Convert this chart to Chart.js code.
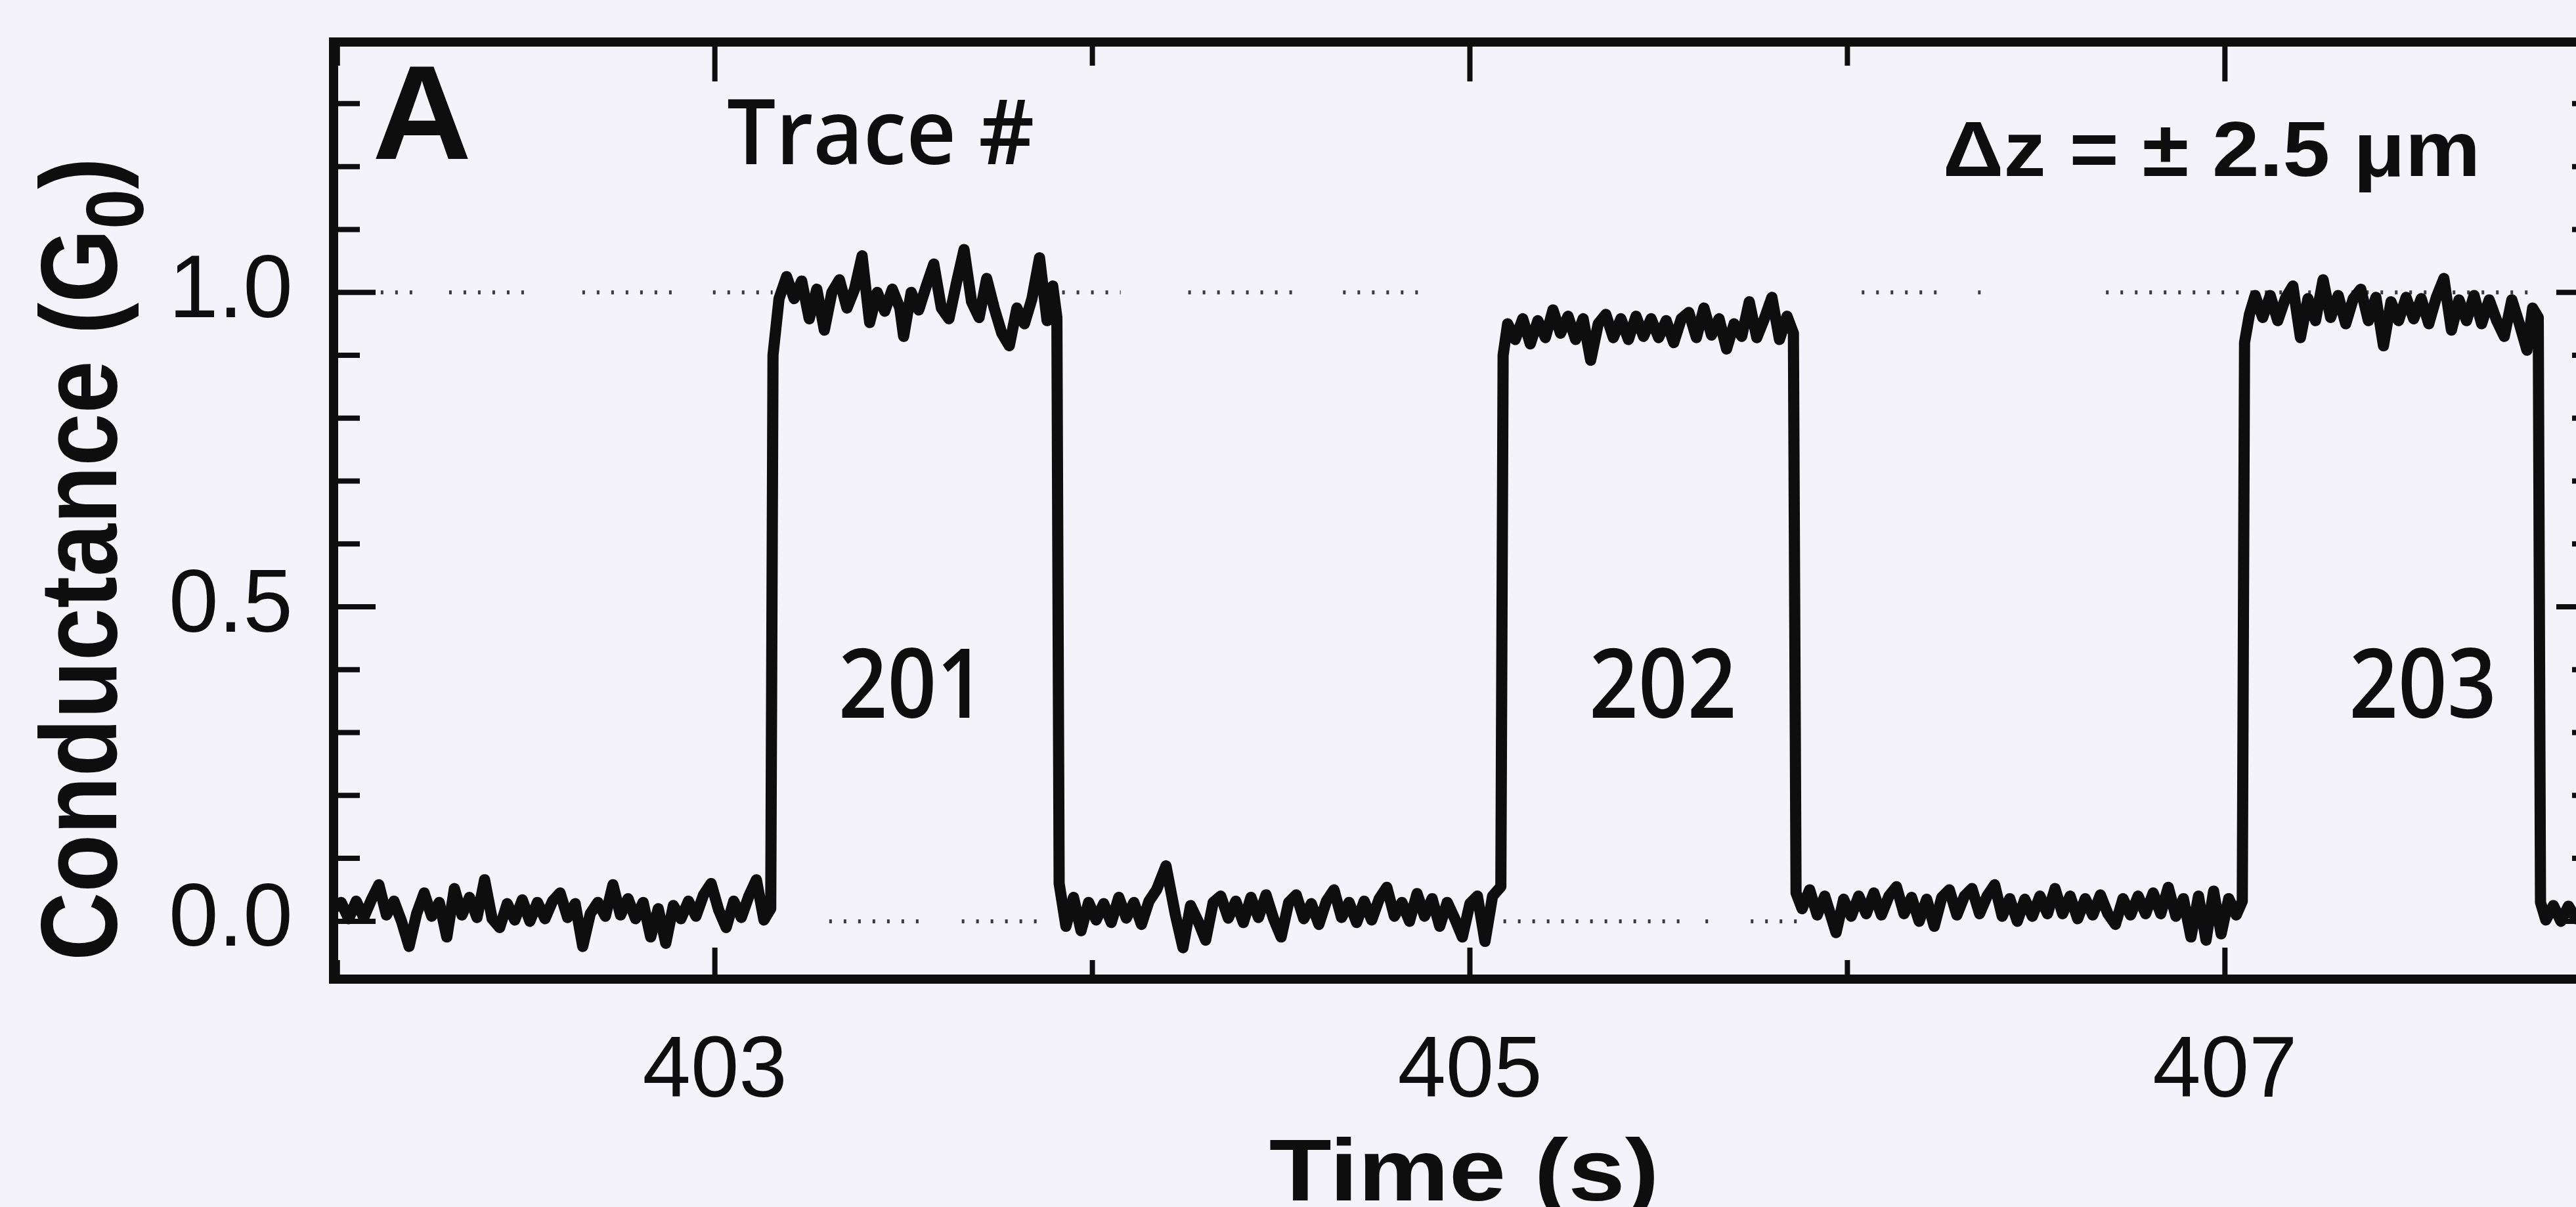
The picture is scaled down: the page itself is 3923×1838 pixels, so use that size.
<!DOCTYPE html>
<html>
<head>
<meta charset="utf-8">
<title>Conductance traces</title>
<script src="https://cdn.jsdelivr.net/npm/chart.js@4.4.1/dist/chart.umd.min.js"></script>
<style>
  html, body { margin: 0; padding: 0; overflow: hidden; background: #f3f3f9; }
  #marco { position: relative; width: 3923px; height: 1838px; overflow: hidden; }
  #grafico { position: absolute; left: 0; top: 0; }
</style>
</head>
<body>
<div id="marco"><canvas id="grafico" width="3960" height="1838"></canvas></div>
<script>
// Datos: [tiempo (s), conductancia (G0)]
const reposo1 = [
  [401.99, 0.020], [402.01, 0.030], [402.03, 0.004], [402.05, 0.032], [402.07, 0.006],
  [402.09, 0.034], [402.11, 0.058], [402.13, 0.010], [402.15, 0.032], [402.17, 0.000],
  [402.19, -0.040], [402.21, 0.012], [402.23, 0.045], [402.25, 0.008], [402.27, 0.030],
  [402.29, -0.025], [402.31, 0.052], [402.33, 0.010], [402.35, 0.038], [402.37, 0.006],
  [402.39, 0.066], [402.41, 0.004], [402.43, -0.010], [402.45, 0.028], [402.47, 0.002],
  [402.49, 0.034], [402.51, 0.000], [402.53, 0.030], [402.55, 0.004], [402.57, 0.032],
  [402.59, 0.045], [402.61, 0.006], [402.63, 0.028], [402.65, -0.040], [402.67, 0.012],
  [402.69, 0.030], [402.71, 0.008], [402.73, 0.058], [402.75, 0.010], [402.77, 0.036],
  [402.79, 0.004], [402.81, 0.030], [402.83, -0.025], [402.85, 0.020], [402.87, -0.035],
  [402.89, 0.025], [402.91, 0.004], [402.93, 0.032], [402.95, 0.008], [402.97, 0.042],
  [402.99, 0.060], [403.01, 0.018], [403.03, -0.010], [403.05, 0.032], [403.07, 0.006],
  [403.09, 0.040], [403.11, 0.066], [403.13, 0.002], [403.148, 0.020]
];

const traza201 = [
  [403.154, 0.900], [403.170, 0.990], [403.190, 1.025], [403.210, 0.990], [403.230, 1.018],
  [403.250, 0.958], [403.270, 1.005], [403.290, 0.940], [403.310, 1.000], [403.330, 1.020],
  [403.350, 0.975], [403.370, 1.005], [403.390, 1.058], [403.410, 0.952], [403.430, 1.000],
  [403.450, 0.970], [403.470, 1.005], [403.490, 0.975], [403.500, 0.930], [403.520, 1.000],
  [403.540, 0.972], [403.560, 1.010], [403.580, 1.045], [403.600, 0.975], [403.620, 0.958],
  [403.640, 1.015], [403.660, 1.068], [403.680, 0.985], [403.700, 0.960], [403.720, 1.022],
  [403.740, 0.975], [403.760, 0.935], [403.780, 0.915], [403.800, 0.975], [403.820, 0.950],
  [403.840, 0.990], [403.860, 1.055], [403.880, 0.955], [403.895, 1.010], [403.906, 0.960]
];

const reposo2 = [
  [403.912, 0.060], [403.930, -0.008], [403.950, 0.038], [403.970, -0.015], [403.990, 0.030],
  [404.010, 0.002], [404.030, 0.028], [404.050, -0.002], [404.070, 0.038], [404.090, 0.005],
  [404.110, 0.030], [404.130, -0.005], [404.150, 0.032], [404.170, 0.050], [404.195, 0.088],
  [404.220, 0.010], [404.240, -0.042], [404.260, 0.025], [404.280, 0.000], [404.300, -0.030],
  [404.320, 0.030], [404.340, 0.040], [404.360, 0.005], [404.380, 0.032], [404.400, -0.002],
  [404.420, 0.038], [404.440, 0.006], [404.460, 0.042], [404.480, 0.004], [404.500, -0.025],
  [404.520, 0.030], [404.540, 0.042], [404.560, 0.004], [404.580, 0.028], [404.600, -0.005],
  [404.620, 0.032], [404.640, 0.050], [404.660, 0.006], [404.680, 0.030], [404.700, -0.002],
  [404.720, 0.032], [404.740, 0.002], [404.760, 0.036], [404.780, 0.054], [404.800, 0.008],
  [404.820, 0.030], [404.840, 0.000], [404.860, 0.044], [404.880, 0.008], [404.900, 0.036],
  [404.920, -0.008], [404.940, 0.030], [404.960, 0.004], [404.980, -0.025], [405.000, 0.028],
  [405.020, 0.040], [405.040, -0.032], [405.060, 0.040], [405.082, 0.055]
];

const traza202 = [
  [405.088, 0.900], [405.100, 0.950], [405.120, 0.925], [405.140, 0.958], [405.160, 0.918],
  [405.180, 0.955], [405.200, 0.928], [405.220, 0.972], [405.240, 0.935], [405.260, 0.962],
  [405.280, 0.925], [405.300, 0.958], [405.320, 0.892], [405.340, 0.950], [405.360, 0.965],
  [405.380, 0.928], [405.400, 0.958], [405.420, 0.925], [405.440, 0.962], [405.460, 0.930],
  [405.480, 0.958], [405.500, 0.928], [405.520, 0.955], [405.540, 0.920], [405.560, 0.958],
  [405.580, 0.968], [405.600, 0.928], [405.620, 0.975], [405.640, 0.932], [405.660, 0.958],
  [405.680, 0.910], [405.700, 0.950], [405.720, 0.930], [405.740, 0.985], [405.760, 0.928],
  [405.780, 0.958], [405.800, 0.992], [405.820, 0.925], [405.840, 0.962], [405.857, 0.935]
];

const reposo3 = [
  [405.864, 0.045], [405.880, 0.020], [405.900, 0.050], [405.920, 0.010], [405.940, 0.040],
  [405.970, -0.018], [405.990, 0.035], [406.010, 0.008], [406.030, 0.040], [406.050, 0.012],
  [406.070, 0.045], [406.090, 0.010], [406.110, 0.040], [406.130, 0.055], [406.150, 0.012],
  [406.170, 0.038], [406.190, 0.000], [406.210, 0.035], [406.230, -0.008], [406.250, 0.038],
  [406.270, 0.050], [406.290, 0.010], [406.310, 0.040], [406.330, 0.052], [406.350, 0.012],
  [406.370, 0.040], [406.390, 0.058], [406.410, 0.008], [406.430, 0.036], [406.450, 0.000],
  [406.470, 0.035], [406.490, 0.008], [406.510, 0.040], [406.530, 0.012], [406.550, 0.052],
  [406.570, 0.012], [406.590, 0.040], [406.610, 0.004], [406.630, 0.036], [406.650, 0.010],
  [406.670, 0.042], [406.690, 0.012], [406.710, -0.005], [406.730, 0.036], [406.750, 0.010],
  [406.770, 0.040], [406.790, 0.012], [406.810, 0.045], [406.830, 0.012], [406.850, 0.054],
  [406.870, 0.008], [406.890, 0.036], [406.910, -0.025], [406.930, 0.040], [406.950, -0.030],
  [406.970, 0.048], [406.990, -0.020], [407.010, 0.036], [407.030, 0.010], [407.046, 0.032]
];

const traza203 = [
  [407.052, 0.920], [407.065, 0.965], [407.080, 0.995], [407.100, 0.960], [407.120, 0.995],
  [407.140, 0.955], [407.160, 0.990], [407.180, 1.010], [407.200, 0.928], [407.220, 0.990],
  [407.240, 0.955], [407.260, 1.020], [407.280, 0.960], [407.300, 0.995], [407.320, 0.950],
  [407.340, 0.990], [407.360, 1.005], [407.380, 0.955], [407.400, 0.992], [407.420, 0.915],
  [407.440, 0.985], [407.460, 0.955], [407.480, 0.992], [407.500, 0.958], [407.520, 0.990],
  [407.540, 0.950], [407.560, 0.992], [407.580, 1.022], [407.600, 0.940], [407.620, 0.988],
  [407.640, 0.955], [407.660, 0.995], [407.680, 0.950], [407.700, 0.988], [407.720, 0.955],
  [407.740, 0.930], [407.760, 0.988], [407.780, 0.950], [407.800, 0.908], [407.815, 0.975],
  [407.830, 0.960]
];

const reposo4 = [
  [407.836, 0.030], [407.850, 0.002], [407.870, 0.025], [407.890, 0.000], [407.910, 0.024],
  [407.930, 0.004], [407.950, 0.022], [407.970, 0.008]
];

// Tramos visibles de las lineas punteadas de referencia (tiempo inicial, tiempo final)
const lineaUnoTramos = [
  [402.115, 402.216], [402.296, 402.497], [402.649, 402.894], [402.995, 403.153],
  [403.920, 404.075], [404.254, 404.532], [404.664, 404.875], [406.038, 406.243],
  [406.346, 406.362], [406.685, 407.819]
];
const lineaCeroTramos = [
  [403.303, 403.546], [403.654, 403.880], [405.089, 405.563], [405.624, 405.642],
  [405.744, 405.871]
];

// Marcas y etiquetas de los ejes
const ejeXMarcas = [402, 403, 404, 405, 406, 407];
const ejeXEtiquetas = ['', '403', '', '405', '', '407'];
const ejeYMarcas = [0, 0.1, 0.2, 0.3, 0.4, 0.5, 0.6, 0.7, 0.8, 0.9, 1.0, 1.1, 1.2, 1.3];
const ejeYEtiquetas = ['0.0', '', '', '', '', '0.5', '', '', '', '', '1.0', '', '', ''];
const numerosTraza = ['201', '202', '203'];

const fondo = '#f3f3f9';
const tinta = '#0e0e0e';

// Une todos los tramos en una sola serie
const puntosTraza = [reposo1, traza201, reposo2, traza202, reposo3, traza203, reposo4]
  .flat()
  .map(p => ({ x: p[0], y: p[1] }));

function lineaPunteada(tramos, nivel) {
  const datos = [];
  tramos.forEach(t => {
    datos.push({ x: t[0], y: nivel });
    datos.push({ x: t[1], y: nivel });
    datos.push({ x: t[1], y: null });
  });
  return {
    data: datos,
    borderColor: '#3a3a42',
    borderWidth: 6,
    borderDash: [4, 18],
    pointRadius: 0,
    spanGaps: false,
    fill: false
  };
}

// Escribe un texto con su tinta empezando en "izq" y ajustada a "ancho"
function textoAjustado(ctx, texto, izq, base, ancho, fuente) {
  ctx.save();
  ctx.font = fuente;
  ctx.textAlign = 'left';
  ctx.textBaseline = 'alphabetic';
  const m = ctx.measureText(texto);
  const k = ancho / (m.actualBoundingBoxLeft + m.actualBoundingBoxRight);
  ctx.translate(izq, base);
  ctx.scale(k, 1);
  ctx.fillText(texto, m.actualBoundingBoxLeft, 0);
  ctx.restore();
}

const pintarFondo = {
  id: 'pintarFondo',
  beforeDraw(chart) {
    const ctx = chart.ctx;
    ctx.save();
    ctx.fillStyle = fondo;
    ctx.fillRect(0, 0, chart.width, chart.height);
    ctx.restore();
  }
};

// Marco cerrado con marcas hacia dentro en los cuatro lados
const marcoEjes = {
  id: 'marcoEjes',
  afterDatasetsDraw(chart) {
    const { ctx, chartArea: a, scales: { x, y } } = chart;
    ctx.save();
    ctx.strokeStyle = tinta;
    ctx.lineWidth = 14;
    ctx.lineJoin = 'miter';
    ctx.strokeRect(a.left, a.top, a.right - a.left, a.bottom - a.top);

    ctx.lineWidth = 8;
    ctx.lineCap = 'butt';
    ctx.beginPath();
    ejeXMarcas.forEach((v, i) => {
      const px = x.getPixelForValue(v);
      const mayor = ejeXEtiquetas[i] !== '';
      ctx.moveTo(px, a.bottom);
      ctx.lineTo(px, a.bottom - (mayor ? 48 : 29));
      ctx.moveTo(px, a.top);
      ctx.lineTo(px, a.top + (mayor ? 60 : 36));
    });
    ejeYMarcas.forEach((v, i) => {
      const py = y.getPixelForValue(v);
      const mayor = ejeYEtiquetas[i] !== '';
      ctx.moveTo(a.left, py);
      ctx.lineTo(a.left + (mayor ? 64 : 40), py);
      ctx.moveTo(a.right, py);
      ctx.lineTo(a.right - (mayor ? 53 : 29), py);
    });
    ctx.stroke();
    ctx.restore();
  }
};

const rotulos = {
  id: 'rotulos',
  afterDraw(chart) {
    const { ctx, scales: { x } } = chart;
    ctx.save();
    ctx.fillStyle = tinta;

    textoAjustado(ctx, 'A', 572, 242, 141, 'bold 205px "Liberation Sans", Arial, sans-serif');
    textoAjustado(ctx, 'Trace #', 1109, 250, 464, '600 137px "Open Sans", sans-serif');
    textoAjustado(ctx, 'Δz = ± 2.5 μm', 2963, 268, 807, 'bold 119px "Liberation Sans", Arial, sans-serif');
    textoAjustado(ctx, 'Time (s)', 1934, 1828, 585, 'bold 134px "Liberation Sans", Arial, sans-serif');

    // Numeros de traza centrados sobre cada escalon
    const centros = [403.506, 405.511, 407.523];
    ctx.font = '600 147px "Open Sans", sans-serif';
    ctx.textAlign = 'left';
    ctx.textBaseline = 'alphabetic';
    const ref = ctx.measureText('201');
    const k = 195 / (ref.actualBoundingBoxLeft + ref.actualBoundingBoxRight);
    numerosTraza.forEach((n, i) => {
      const m = ctx.measureText(n);
      const tintaAncho = (m.actualBoundingBoxLeft + m.actualBoundingBoxRight) * k;
      const cx = x.getPixelForValue(centros[i]);
      ctx.save();
      ctx.translate(cx - tintaAncho / 2, 1093);
      ctx.scale(k, 1);
      ctx.fillText(n, m.actualBoundingBoxLeft, 0);
      ctx.restore();
    });

    // Titulo vertical con subindice
    const principal = 'bold 165px "Liberation Sans", Arial, sans-serif';
    const subindice = 'bold 125px "Liberation Sans", Arial, sans-serif';
    ctx.font = principal;
    const w1 = ctx.measureText('Conductance (G').width;
    const w3 = ctx.measureText(')').width;
    ctx.font = subindice;
    const w2 = ctx.measureText('0').width;
    const kt = 1223 / (w1 + w2 + w3);
    ctx.save();
    ctx.translate(177, 1463);
    ctx.rotate(-Math.PI / 2);
    ctx.scale(kt, 1);
    ctx.font = principal;
    ctx.fillText('Conductance (G', 0, 0);
    ctx.font = subindice;
    ctx.fillText('0', w1, 41);
    ctx.font = principal;
    ctx.fillText(')', w1 + w2, 0);
    ctx.restore();

    ctx.restore();
  }
};

new Chart(document.getElementById('grafico'), {
  type: 'line',
  data: {
    datasets: [
      {
        data: puntosTraza,
        borderColor: tinta,
        borderWidth: 17,
        borderJoinStyle: 'round',
        borderCapStyle: 'round',
        pointRadius: 0,
        tension: 0,
        fill: false
      },
      lineaPunteada(lineaUnoTramos, 1.0),
      lineaPunteada(lineaCeroTramos, 0.0)
    ]
  },
  options: {
    responsive: false,
    animation: false,
    devicePixelRatio: 1,
    layout: { padding: { left: 0, top: 64, right: 14, bottom: 0 } },
    plugins: { legend: { display: false }, tooltip: { enabled: false } },
    scales: {
      x: {
        type: 'linear',
        min: 401.99,
        max: 407.97,
        grid: { display: false, drawTicks: false },
        border: { display: false },
        afterBuildTicks: s => { s.ticks = ejeXMarcas.map(v => ({ value: v })); },
        afterFit: s => { s.height = 347; s.paddingLeft = 0; s.paddingRight = 0; },
        ticks: {
          autoSkip: false,
          maxRotation: 0,
          minRotation: 0,
          padding: 77,
          color: tinta,
          font: { family: '"Liberation Sans", Arial, sans-serif', size: 132, lineHeight: 1 },
          callback: (v, i) => ejeXEtiquetas[i]
        }
      },
      y: {
        type: 'linear',
        min: -0.092,
        max: 1.398,
        grid: { display: false, drawTicks: false },
        border: { display: false },
        afterBuildTicks: s => { s.ticks = ejeYMarcas.map(v => ({ value: v })); },
        afterFit: s => { s.width = 508; s.paddingTop = 0; s.paddingBottom = 0; },
        ticks: {
          autoSkip: false,
          padding: 62,
          color: tinta,
          font: { family: '"Liberation Sans", Arial, sans-serif', size: 136, lineHeight: 1 },
          callback: (v, i) => ejeYEtiquetas[i]
        }
      }
    }
  },
  plugins: [pintarFondo, marcoEjes, rotulos]
});
</script>
</body>
</html>
